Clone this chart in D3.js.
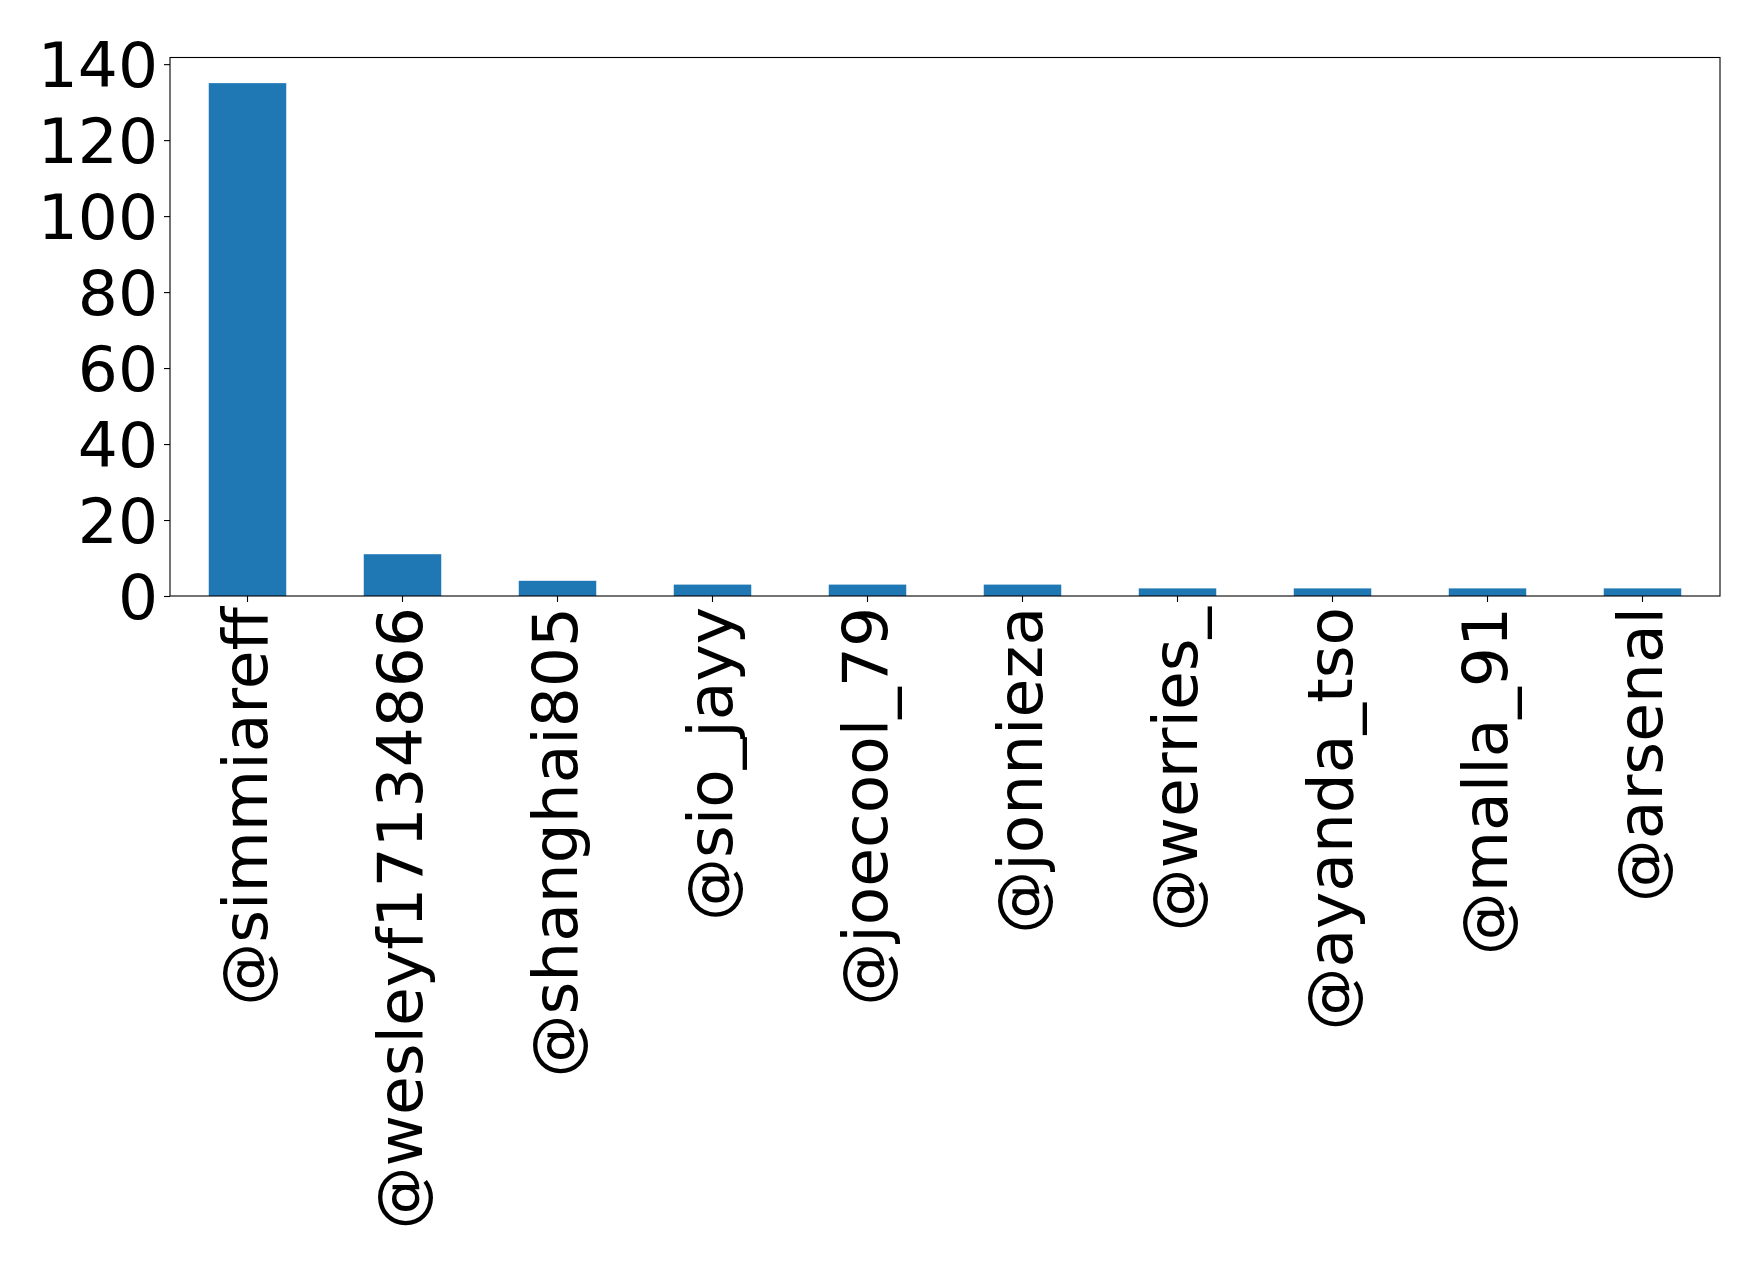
<!DOCTYPE html>
<html>
<head>
<meta charset="utf-8">
<script src="https://cdn.jsdelivr.net/npm/d3@7"></script>
<style>
  body { margin: 0; background: #fff; }
  svg text { font-family: "DejaVu Sans", sans-serif; fill: #000; }
</style>
</head>
<body>
<div id="chart"></div>
<script>
// accounts and counts
var accounts = ["@simmiareff", "@wesleyf17134866", "@shanghai805", "@sio_jayy", "@joecool_79",
                "@jonnieza", "@werries_", "@ayanda_tso", "@malla_91", "@arsenal"];
var counts = [135, 11, 4, 3, 3, 3, 2, 2, 2, 2];
var yTicks = [0, 20, 40, 60, 80, 100, 120, 140];

var width = 1758,
    height = 1263,
    margin = { top: 57.5, right: 38, bottom: 667, left: 170 };

var innerW = width - margin.left - margin.right,
    innerH = height - margin.top - margin.bottom;

var svg = d3.select("#chart").append("svg")
    .attr("width", width)
    .attr("height", height);

var g = svg.append("g")
    .attr("transform", "translate(" + margin.left + "," + margin.top + ")");

// band scale with 0.5 padding gives matplotlib's bar width of 0.5
var x = d3.scaleBand()
    .domain(accounts)
    .range([0, innerW])
    .paddingInner(0.5)
    .paddingOuter(0.25);

var y = d3.scaleLinear()
    .domain([0, d3.max(counts) * 1.05])
    .range([innerH, 0]);

// bars
g.selectAll("rect.bar")
    .data(accounts)
    .enter()
    .append("rect")
    .attr("class", "bar")
    .attr("x", d => x(d))
    .attr("width", x.bandwidth())
    .attr("y", (d, i) => y(counts[i]))
    .attr("height", (d, i) => innerH - y(counts[i]))
    .style("fill", "#1f77b4");

// y axis
var yAxis = g.append("g")
    .call(d3.axisLeft(y).tickValues(yTicks).tickSize(6).tickPadding(6));
yAxis.select(".domain").remove();
yAxis.selectAll("line").attr("stroke", "#000").attr("stroke-width", 1.1);
yAxis.selectAll("text")
    .style("font-size", "63px")
    .attr("dy", "0.36em");

// x axis with rotated labels
var xAxis = g.append("g")
    .attr("transform", "translate(0," + innerH + ")")
    .call(d3.axisBottom(x).tickSize(6).tickPadding(8));
xAxis.select(".domain").remove();
xAxis.selectAll("line").attr("stroke", "#000").attr("stroke-width", 1.1);
xAxis.selectAll("text")
    .style("font-size", "63px")
    .attr("text-anchor", "end")
    .attr("y", 0)
    .attr("dy", "0.31em")
    .attr("transform", "translate(0,11) rotate(-90)");

// frame around the plot area
g.append("rect")
    .attr("width", innerW)
    .attr("height", innerH)
    .style("fill", "none")
    .style("stroke", "#000")
    .style("stroke-width", 1.1);
</script>
</body>
</html>
